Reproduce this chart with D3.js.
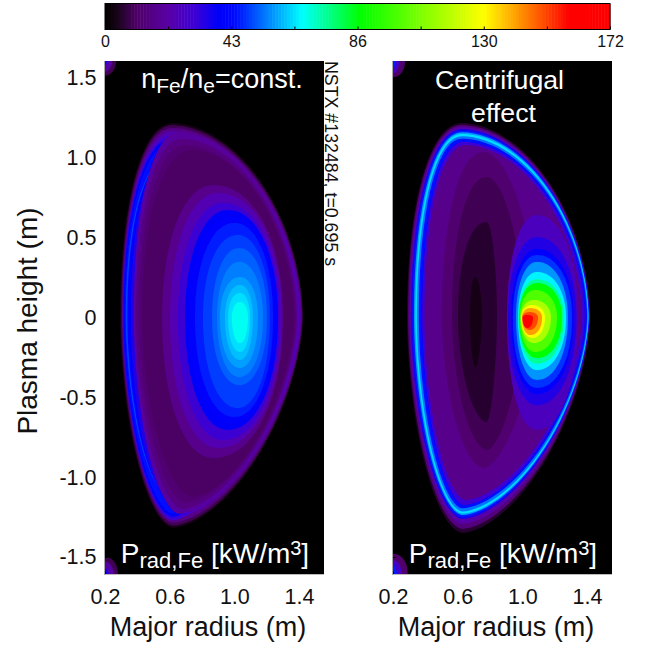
<!DOCTYPE html>
<html>
<head>
<meta charset="utf-8">
<style>
  html, body { margin: 0; padding: 0; background: #fff; }
  text { font-family: "Liberation Sans", Arial, sans-serif; }
</style>
<script src="https://cdnjs.cloudflare.com/ajax/libs/d3/7.8.5/d3.min.js"></script>
</head>
<body>
<script>
// colour table
var colorStops = [0, 4, 11, 21.5, 31, 38.5, 44, 67, 87, 129, 158, 172];
var colorValues = ["#000000", "#170518", "#50006a", "#5a00a5", "#3a00d8", "#0000f8", "#0008ff", "#00ffff", "#00ff00", "#ffff00", "#ff0000", "#ff0000"];
var barTicks = [0, 21.5, 43, 64.5, 86, 107.5, 129, 150.5, 172];
var barLabels = ["0", "", "43", "", "86", "", "130", "", "172"];

// squareness of the plasma edge per quadrant: top out, top in, bottom in, bottom out
var edgeShape = [1.85, 2.15, 1.8, 1.65];
var coreShape = [2.1, 2.1, 2.1, 2.1];

// filled contours, painted in order: [value kW/m3, R in, R out, Z top, Z bottom, R at top, core shape?]
var constLayers = [
  [4, 0.293, 1.425, 1.218, -1.318, 0.62],
  [9, 0.299, 1.422, 1.205, -1.305, 0.62],
  [16, 0.305, 1.418, 1.187, -1.285, 0.62],
  [24, 0.311, 1.41, 1.165, -1.26, 0.62],
  [31, 0.31, 1.2, 1.14, -1.27, 0.62],
  [38, 0.314, 1.15, 1.12, -1.25, 0.62],
  [43, 0.32, 1.1, 1.10, -1.23, 0.62],
  [49, 0.328, 1.0, 1.0, -1.12, 0.6],
  [42, 0.338, 1.0, 1.0, -1.12, 0.6],
  [34, 0.36, 1.0, 1.02, -1.14, 0.6],
  [20, 0.378, 1.394, 1.16, -1.23, 0.66],
  [15, 0.392, 1.387, 1.12, -1.20, 0.68],
  [12.5, 0.41, 1.381, 1.08, -1.16, 0.70],
  [10.5, 0.43, 1.369, 1.049, -1.124, 0.74],
  [17, 0.553, 1.301, 0.83, -0.88, 0.87, 1],
  [24, 0.602, 1.295, 0.78, -0.817, 0.90, 1],
  [30, 0.651, 1.282, 0.717, -0.767, 0.93, 1],
  [39, 0.695, 1.27, 0.673, -0.704, 0.96, 1],
  [42, 0.713, 1.265, 0.629, -0.661, 0.98, 1],
  [46, 0.757, 1.239, 0.592, -0.623, 1.0, 1],
  [49, 0.806, 1.22, 0.517, -0.567, 1.02, 1],
  [52, 0.862, 1.202, 0.435, -0.423, 1.03, 1],
  [55, 0.893, 1.177, 0.348, -0.373, 1.03, 1],
  [58, 0.911, 1.146, 0.254, -0.316, 1.035, 1],
  [61, 0.942, 1.115, 0.204, -0.266, 1.035, 1],
  [64, 0.961, 1.097, 0.153, -0.216, 1.035, 1],
  [68, 0.985, 1.084, 0.097, -0.16, 1.035, 1]
];
var centrifugalLayers = [
  [6, 0.287, 1.418, 1.218, -1.349, 0.63],
  [14, 0.293, 1.416, 1.205, -1.324, 0.63],
  [22, 0.302, 1.414, 1.193, -1.293, 0.63],
  [36, 0.311, 1.413, 1.18, -1.262, 0.63],
  [46, 0.32, 1.412, 1.17, -1.249, 0.63],
  [58, 0.33, 1.41, 1.16, -1.237, 0.63],
  [64, 0.338, 1.408, 1.15, -1.228, 0.63],
  [54, 0.348, 1.405, 1.135, -1.215, 0.63],
  [44, 0.36, 1.4, 1.12, -1.195, 0.63],
  [30, 0.38, 1.387, 1.10, -1.174, 0.64],
  [17, 0.395, 1.369, 1.08, -1.143, 0.65],
  [12, 0.503, 1.08, 1.036, -0.942, 0.76],
  [9, 0.565, 1.0, 0.88, -0.83, 0.78],
  [6, 0.602, 0.843, 0.598, -0.654, 0.78],
  [4, 0.676, 0.75, 0.254, -0.31, 0.71],
  [26, 0.905, 1.345, 0.642, -0.704, 1.09, 1],
  [34, 0.911, 1.335, 0.504, -0.55, 1.09, 1],
  [42, 0.93, 1.318, 0.43, -0.48, 1.09, 1],
  [48, 0.942, 1.307, 0.391, -0.441, 1.09, 1],
  [57, 0.961, 1.282, 0.348, -0.391, 1.09, 1],
  [66, 0.973, 1.27, 0.285, -0.329, 1.09, 1],
  [75, 0.976, 1.258, 0.24, -0.29, 1.09, 1],
  [87, 0.979, 1.245, 0.216, -0.254, 1.09, 1],
  [100, 0.985, 1.214, 0.172, -0.216, 1.08, 1],
  [115, 0.99, 1.177, 0.11, -0.16, 1.07, 1],
  [128, 0.992, 1.14, 0.078, -0.128, 1.06, 1],
  [140, 0.998, 1.122, 0.059, -0.11, 1.05, 1],
  [150, 1.0, 1.097, 0.034, -0.078, 1.045, 1],
  [160, 1.002, 1.066, 0.016, -0.066, 1.03, 1],
  [172, 1.004, 1.029, 0.003, -0.053, 1.015, 1]
];
// blobs in the corners of the frames (same layout)
var constCorners = [
  [9, 0.13, 0.27, 1.72, 1.515, 0.2, 1],
  [22, 0.13, 0.245, 1.72, 1.54, 0.2, 1],
  [34, 0.13, 0.222, 1.72, 1.58, 0.2, 1],
  [9, 0.13, 0.28, -1.50, -1.72, 0.2, 1],
  [22, 0.13, 0.255, -1.53, -1.72, 0.2, 1],
  [34, 0.13, 0.228, -1.57, -1.72, 0.2, 1]
];
var centrifugalCorners = [
  [11, 0.13, 0.275, 1.72, 1.505, 0.2, 1],
  [28, 0.13, 0.24, 1.72, 1.53, 0.2, 1],
  [46, 0.13, 0.22, 1.72, 1.56, 0.2, 1],
  [11, 0.13, 0.29, -1.48, -1.72, 0.2, 1],
  [28, 0.13, 0.255, -1.52, -1.72, 0.2, 1],
  [46, 0.13, 0.225, -1.55, -1.72, 0.2, 1]
];

var rTicks = [0.2, 0.6, 1.0, 1.4];
var rTickLabels = ["0.2", "0.6", "1.0", "1.4"];
var zTicks = [1.5, 1.0, 0.5, 0, -0.5, -1.0, -1.5];
var zTickLabels = ["1.5", "1.0", "0.5", "0", "-0.5", "-1.0", "-1.5"];

var width = 652, height = 648;
var color = d3.scaleLinear().domain(colorStops).range(colorValues);

var svg = d3.select("body").append("svg")
    .attr("width", width)
    .attr("height", height)
    .style("display", "block");

var defs = svg.append("defs");
defs.append("filter").attr("id", "soft")
    .attr("x", "-5%").attr("y", "-5%").attr("width", "110%").attr("height", "110%")
  .append("feGaussianBlur").attr("stdDeviation", 0.6);

drawColorBar();

var zScale = d3.scaleLinear().domain([1.5, -1.5]).range([78, 557]);

drawPanel("a", 105, constLayers, constCorners);
drawPanel("b", 393, centrifugalLayers, centrifugalCorners);
drawLabels();

function drawColorBar(){

  var x = d3.scaleLinear().domain([0, 172]).range([105, 610]);
  var g = svg.append("g");

  g.selectAll("rect")
      .data(d3.range(0, 172, 1))
    .enter().append("rect")
      .attr("x", function(d){ return x(d); })
      .attr("y", 4)
      .attr("width", x(1) - x(0) + 0.5)
      .attr("height", 25)
      .attr("fill", function(d){ return color(d + 0.5); });

  g.append("rect")
      .attr("x", 105).attr("y", 3.5)
      .attr("width", 505).attr("height", 26)
      .attr("fill", "none")
      .attr("stroke", "#000");

  var axis = d3.axisBottom(x)
      .tickValues(barTicks)
      .tickSize(-3)
      .tickPadding(6)
      .tickFormat(function(d, i){ return barLabels[i]; });

  var ax = g.append("g")
      .attr("transform", "translate(0,29.5)")
      .call(axis);
  ax.select(".domain").remove();
  ax.selectAll("text")
      .attr("font-size", 16)
      .attr("font-family", "Liberation Sans")
      .attr("fill", "#111");
}

function drawPanel(id, x0, layers, corners){

  var rScale = d3.scaleLinear().domain([0.2, 1.4]).range([x0, x0 + 194]);
  var top = 61, bottom = 574, left = x0, right = x0 + 219;

  defs.append("clipPath").attr("id", "clip" + id)
    .append("rect")
      .attr("x", left).attr("y", top)
      .attr("width", right - left).attr("height", bottom - top);

  var outer = svg.append("g").attr("clip-path", "url(#clip" + id + ")");

  outer.append("rect")
      .attr("x", left).attr("y", top)
      .attr("width", right - left).attr("height", bottom - top)
      .attr("fill", "#000");

  var g = outer.append("g").attr("filter", "url(#soft)");

  var line = d3.line()
      .x(function(d){ return rScale(d[0]); })
      .y(function(d){ return zScale(d[1]); })
      .curve(d3.curveLinearClosed);

  g.selectAll(".layer")
      .data(layers.concat(corners))
    .enter().append("path")
      .attr("class", "layer")
      .attr("d", function(d){ return line(surface(d)); })
      .attr("fill", function(d){ return color(d[0]); });

  // axes
  var yAxis = d3.axisLeft(zScale).tickValues(zTicks).tickSize(-3).tickPadding(8)
      .tickFormat(function(d, i){ return zTickLabels[i]; });
  var xAxis = d3.axisBottom(rScale).tickValues(rTicks).tickSize(-3).tickPadding(14)
      .tickFormat(function(d, i){ return rTickLabels[i]; });

  var ya = svg.append("g").attr("transform", "translate(" + (left - 0.5) + ",0)").call(yAxis);
  var xa = svg.append("g").attr("transform", "translate(0," + (bottom + 0.5) + ")").call(xAxis);

  ya.select(".domain").remove();
  xa.select(".domain").remove();
  svg.append("line").attr("x1", left - 0.5).attr("x2", left - 0.5)
      .attr("y1", top).attr("y2", bottom + 1).attr("stroke", "#aaa");
  svg.append("line").attr("x1", left).attr("x2", right)
      .attr("y1", bottom + 0.5).attr("y2", bottom + 0.5).attr("stroke", "#bbb");

  xa.selectAll("text").attr("font-size", 21.5).attr("font-family", "Liberation Sans").attr("fill", "#111");
  if (id == "a") {
    ya.selectAll("text").attr("font-size", 21.5).attr("font-family", "Liberation Sans").attr("fill", "#111");
  } else {
    ya.selectAll("text").remove();
  }

  // Major radius title
  svg.append("text")
      .attr("x", x0 + 103).attr("y", 636)
      .attr("text-anchor", "middle")
      .attr("font-size", 27)
      .attr("fill", "#111")
      .text("Major radius (m)");

  // P rad label
  var p = svg.append("text")
      .attr("x", x0 + 110).attr("y", 563)
      .attr("text-anchor", "middle")
      .attr("font-size", 28)
      .attr("fill", "#fff");
  p.append("tspan").text("P");
  p.append("tspan").attr("dy", 5).attr("font-size", 22).text("rad,Fe");
  p.append("tspan").attr("dy", -5).text(" [kW/m");
  p.append("tspan").attr("dy", -8).attr("font-size", 20).text("3");
  p.append("tspan").attr("dy", 8).text("]");
}

// outline of one contour box, one superellipse arc per quadrant
function surface(c){
  var p = c[6] ? coreShape : edgeShape;
  var mid = (c[3] * c[4] > 0) ? (c[3] + c[4]) / 2 : 0;
  var pts = [];
  d3.range(0, 360, 3).forEach(function(a){
    var t = a * Math.PI / 180, q = Math.floor(a / 90), e = 2 / p[q];
    var cx = Math.pow(Math.abs(Math.cos(t)), e), cy = Math.pow(Math.abs(Math.sin(t)), e);
    var x = q == 0 || q == 3 ? c[5] + cx * (c[2] - c[5]) : c[5] - cx * (c[5] - c[1]);
    var y = q < 2 ? mid + cy * (c[3] - mid) : mid - cy * (mid - c[4]);
    pts.push([x, y]);
  });
  return pts;
}

function drawLabels(){

  svg.append("text")
      .attr("transform", "translate(37,321)rotate(-90)")
      .attr("text-anchor", "middle")
      .attr("font-size", 28)
      .attr("fill", "#111")
      .text("Plasma height (m)");

  svg.append("text")
      .attr("transform", "translate(325,61)rotate(90)")
      .attr("font-size", 17.8)
      .attr("fill", "#111")
      .text("NSTX #132484, t=0.695 s");

  var t = svg.append("text")
      .attr("x", 222).attr("y", 88)
      .attr("text-anchor", "middle")
      .attr("font-size", 27)
      .attr("fill", "#fff");
  t.append("tspan").text("n");
  t.append("tspan").attr("dy", 5).attr("font-size", 21).text("Fe");
  t.append("tspan").attr("dy", -5).text("/n");
  t.append("tspan").attr("dy", 5).attr("font-size", 21).text("e");
  t.append("tspan").attr("dy", -5).text("=const.");

  svg.append("text")
      .attr("x", 499.5).attr("y", 89)
      .attr("text-anchor", "middle")
      .attr("font-size", 26.7)
      .attr("fill", "#fff")
      .text("Centrifugal");
  svg.append("text")
      .attr("x", 503.5).attr("y", 122)
      .attr("text-anchor", "middle")
      .attr("font-size", 26.7)
      .attr("fill", "#fff")
      .text("effect");
}
</script>
</body>
</html>
